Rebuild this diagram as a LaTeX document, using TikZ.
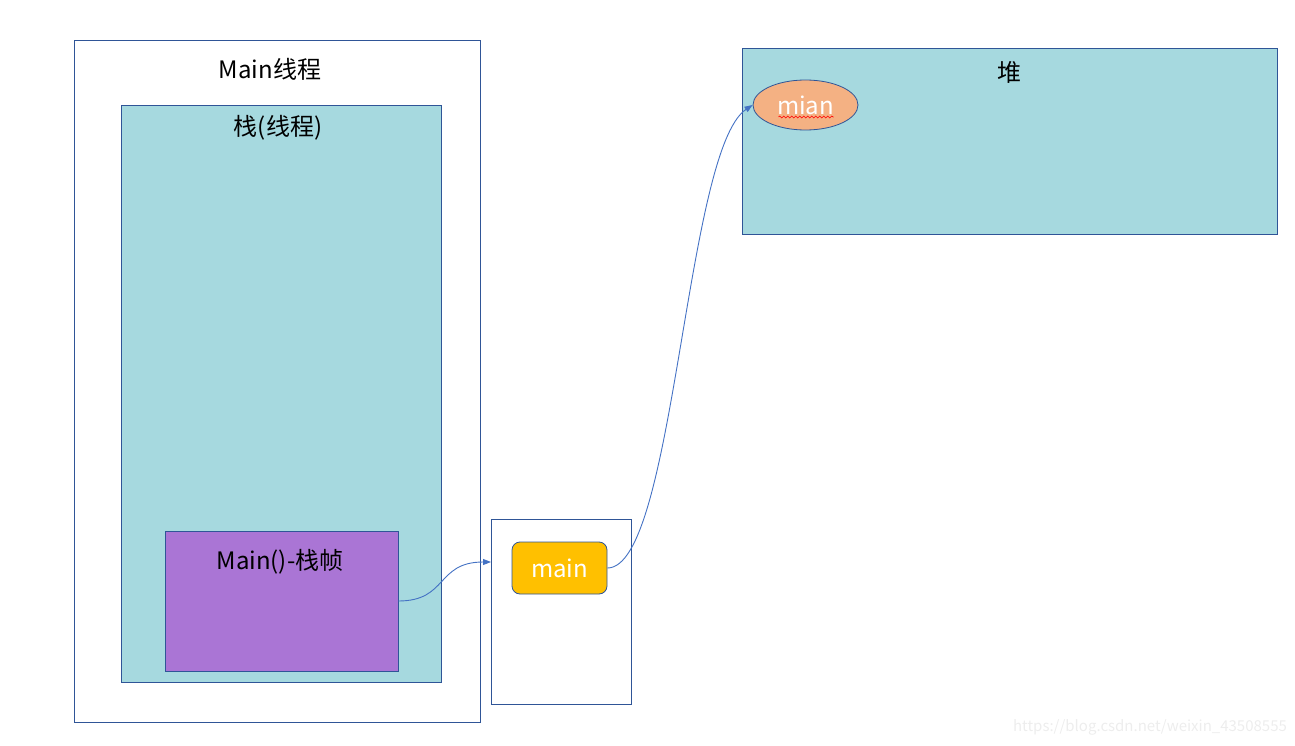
\documentclass[tikz,border=0pt]{standalone}
\usepackage{fontspec}
\setmainfont{Noto Sans CJK SC}
\definecolor{lineblue}{RGB}{47, 85, 151}
\definecolor{arrowblue}{RGB}{68, 114, 196}
\definecolor{stackteal}{RGB}{166, 217, 223}
\definecolor{framepurple}{RGB}{170, 117, 213}
\definecolor{refyellow}{RGB}{255, 192, 0}
\definecolor{objorange}{RGB}{244, 177, 131}
\usetikzlibrary{shapes, arrows.meta, positioning, calc, decorations.pathmorphing}

\tikzset{
  memblock/.style={draw=lineblue, line width=0.8pt, rectangle, inner sep=0pt},
  blocktitle/.style={font=\fontsize{24}{28}\selectfont, inner sep=0pt},
  conn/.style={-{Triangle[length=8pt, width=6pt]}, arrowblue, line width=0.9pt}
}

\begin{document}
\begin{tikzpicture}[x=1pt, y=-1pt]
  \useasboundingbox (0,0) rectangle (1295,746);

  % Main thread
  \node[memblock, fill=white, minimum width=406pt, minimum height=682pt] (mainthread) at (277,381) {};
  \node[blocktitle] (threadtitle) at (270,69) {Main线程};

  % Stack
  \node[memblock, fill=stackteal, minimum width=320pt, minimum height=577pt] (stack) at (281,393.5) {};
  \node[blocktitle] (stacktitle) at (278,128) {栈(线程)};

  % Stack frame
  \node[memblock, fill=framepurple, minimum width=233pt, minimum height=140pt] (frame) at (281.5,601) {};
  \node[blocktitle] (frametitle) at (280,562) {Main()-栈帧};

  % Local variable table
  \node[memblock, fill=white, minimum width=140pt, minimum height=185pt] (locals) at (561,611.5) {};
  \node[draw=lineblue, line width=0.8pt, fill=refyellow, rounded corners=8pt, minimum width=95pt, minimum height=52pt, inner sep=0pt, text=white, font=\fontsize{24}{28}\selectfont] (mainref) at (559.5,568) {main};

  % Heap
  \node[memblock, fill=stackteal, minimum width=535pt, minimum height=186pt] (heap) at (1009.5,141) {};
  \node[blocktitle] (heaptitle) at (1009,72) {堆};
  \node[draw=lineblue, line width=0.8pt, fill=objorange, ellipse, minimum width=105pt, minimum height=50pt, inner sep=0pt, text=white, font=\fontsize{24}{28}\selectfont] (mianobj) at (805.5,105) {mian};
  \draw[red, line width=0.6pt, decorate, decoration={snake, amplitude=1pt, segment length=4pt}] ($(mianobj.center)+(-27,12)$) -- ($(mianobj.center)+(28,12)$);

  % References
  \coordinate (localsin) at (491,562);
  \draw[conn] (frame.east) .. controls (448,601) and (436,562) .. (localsin);
  \draw[conn] (mainref.east) .. controls (675,568) and (685,150) .. (mianobj.west);

  % Watermark
  \node[text=gray!14, font=\fontsize{15}{17}\selectfont, inner sep=0pt] (watermark) at (1150,727) {https://blog.csdn.net/weixin\_43508555};
\end{tikzpicture}
\end{document}
